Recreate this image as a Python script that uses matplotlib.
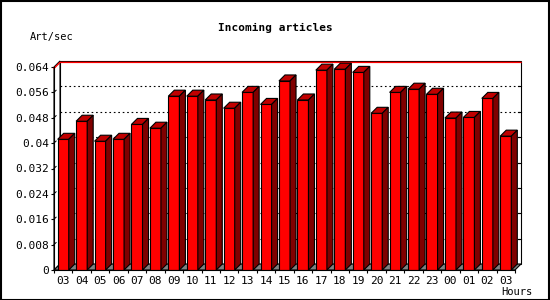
import numpy as np
import matplotlib
matplotlib.use("Agg")
import matplotlib.pyplot as plt
from matplotlib.patches import Polygon, Rectangle

hours = ["03", "04", "05", "06", "07", "08", "09", "10", "11", "12", "13", "14", "15",
         "16", "17", "18", "19", "20", "21", "22", "23", "00", "01", "02", "03"]
values = [0.0412, 0.0469, 0.0406, 0.0412, 0.0459, 0.0447, 0.0548, 0.0548, 0.0536,
          0.0510, 0.0560, 0.0522, 0.0596, 0.0536, 0.0630, 0.0633, 0.0623, 0.0494,
          0.0560, 0.0570, 0.0554, 0.0479, 0.0481, 0.0541, 0.0422]
yticks = [0, 0.008, 0.016, 0.024, 0.032, 0.04, 0.048, 0.056, 0.064]
ylabels = ["0", "0.008", "0.016", "0.024", "0.032", "0.04", "0.048", "0.056", "0.064"]
ymax = 0.064

W, H = 550, 300
fig = plt.figure(figsize=(5.5, 3), dpi=100)
fig.patch.set_facecolor("white")

# front plot area in pixels
left, right, bottom, top = 54, 515, 270, 67
ax = fig.add_axes([left / W, (H - bottom) / H, (right - left) / W, (bottom - top) / H])
n = len(values)
ax.set_xlim(-0.5, n - 0.5)
ax.set_ylim(0, ymax)
ax.set_facecolor("none")

# 3d depth (6 px) in data units
depth_px = 6
dx = depth_px * n / (right - left)
dy = depth_px * ymax / (bottom - top)
px_y = ymax / (bottom - top)

x0, x1 = -0.5, n - 0.5
lw = 0.8

# back wall
ax.add_patch(Polygon([(x0 + dx, dy), (x1 + dx, dy), (x1 + dx, ymax + dy), (x0 + dx, ymax + dy)],
                     closed=True, facecolor="white", edgecolor="black", lw=lw, zorder=1, clip_on=False))
# left wall
ax.add_patch(Polygon([(x0, 0), (x0 + dx, dy), (x0 + dx, ymax + dy), (x0, ymax)],
                     closed=True, facecolor="white", edgecolor="black", lw=lw, zorder=1, clip_on=False))
# floor
ax.add_patch(Polygon([(x0, 0), (x1, 0), (x1 + dx, dy), (x0 + dx, dy)],
                     closed=True, facecolor="#808080", edgecolor="black", lw=lw, zorder=1, clip_on=False))

# dotted grid on back wall
for v in yticks[1:-1]:
    ax.plot([x0 + dx, x1 + dx], [v + dy, v + dy], color="black", lw=0.8,
            linestyle=(0, (1.5, 2.5)), zorder=1.5, clip_on=False)
    ax.plot([x1 + dx - 0.15, x1 + dx], [v + dy, v + dy], color="black", lw=0.8, zorder=1.5, clip_on=False)
    # small 3d tick on left wall
    ax.plot([x0, x0 + dx * 0.35], [v, v + dy * 0.35], color="black", lw=0.7, zorder=1.5, clip_on=False)

# red line at top
off = 1.4 * px_y
ax.plot([x0, x0 + dx, x1 + dx], [ymax - off, ymax + dy - off, ymax + dy - off],
        color="red", lw=1.0, zorder=1.6, clip_on=False)

# bars
xs = np.arange(n)
bw = 0.6
ax.bar(xs, values, width=bw, color="#ff0000", edgecolor="black", linewidth=lw, zorder=3)
for x, v in zip(xs, values):
    xl, xr = x - bw / 2, x + bw / 2
    ax.add_patch(Polygon([(xl, v), (xr, v), (xr + dx, v + dy), (xl + dx, v + dy)],
                         closed=True, facecolor="#c00000", edgecolor="black", lw=lw, zorder=3, clip_on=False))
    ax.add_patch(Polygon([(xr, 0), (xr + dx, dy), (xr + dx, v + dy), (xr, v)],
                         closed=True, facecolor="#800000", edgecolor="black", lw=lw, zorder=3, clip_on=False))

# axes
for s in ["top", "right"]:
    ax.spines[s].set_visible(False)
for s in ["left", "bottom"]:
    ax.spines[s].set_linewidth(lw)
    ax.spines[s].set_zorder(4)

ax.set_yticks(yticks)
ax.set_yticklabels(ylabels, family="DejaVu Sans Mono", fontsize=8)
ax.tick_params(axis="y", direction="out", length=2, width=lw, pad=1.5)
ax.set_xticks(xs)
ax.set_xticklabels(hours, family="DejaVu Sans Mono", fontsize=8)
ax.set_xticks(np.arange(-0.5, n, 1), minor=True)
ax.tick_params(axis="x", which="major", length=0, pad=4)
ax.tick_params(axis="x", which="minor", direction="out", length=2.5, width=lw)

# texts
fig.text(275 / W, 1 - 27.5 / H, "Incoming articles", ha="center", va="center",
         family="DejaVu Sans Mono", fontweight="bold", fontsize=8)
fig.text(30 / W, 1 - 37 / H, "Art/sec", ha="left", va="center",
         family="DejaVu Sans Mono", fontsize=7.5)
fig.text(533 / W, 1 - 292 / H, "Hours", ha="right", va="center",
         family="DejaVu Sans Mono", fontsize=7.5)

# outer frame
fig.add_artist(Rectangle((0.5 / W, 0.5 / H), 1 - 1.5 / W, 1 - 1.5 / H, transform=fig.transFigure,
                         fill=False, edgecolor="black", lw=1.5))

fig.savefig("out.png", dpi=100)
